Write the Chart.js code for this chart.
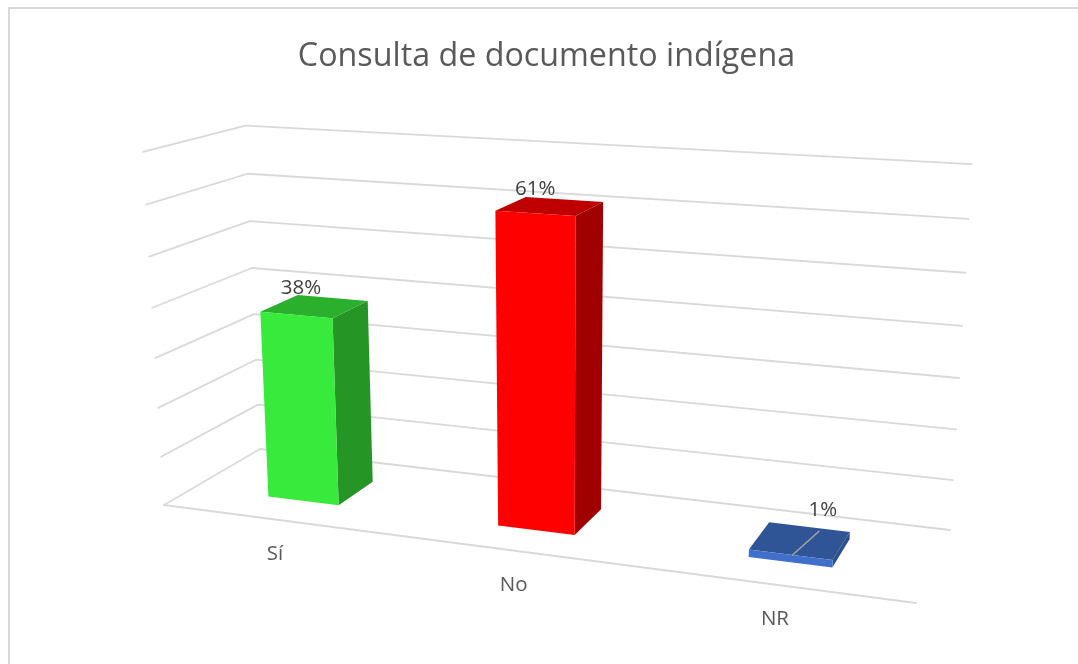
<!DOCTYPE html>
<html>
<head>
<meta charset="utf-8">
<script src="https://cdn.jsdelivr.net/npm/chart.js@4"></script>
<style>
html,body{margin:0;padding:0;background:#fff;overflow:hidden}
#wrap{position:relative;width:1078px;height:664px}
#frame{position:absolute;left:8px;top:7px;right:0;bottom:0;border-left:2px solid #d9d9d9;border-top:2px solid #d9d9d9}
canvas{position:absolute;left:0;top:0}
</style>
</head>
<body>
<div id="wrap"><canvas id="c" width="1078" height="664"></canvas><div id="frame"></div></div>
<script>
const chartTitle = 'Consulta de documento indígena';
const categories = ['Sí', 'No', 'NR'];
const percentValues = [38, 61, 1];
const axisMax = 70;
const axisStep = 10;
const frontColors = ['#37ea3c', '#ff0000', '#4070cc'];
const topColors = ['#2bb02e', '#bf0000', '#2f5597'];
const sideColors = ['#259525', '#a00000', '#2a4d8c'];

// Perspective of the 3D box: floor corners on screen and vertical vanishing point
const A = [164, 505], B = [916, 603], C = [950, 530], D = [260, 449];
const vanish = [556, 7089], vWeight = -0.0509, rightLift = 2.5;
const depthFront = 0.30, depthBack = 0.70, barShift = -0.001;
const labelOffsets = [[-14.5, -18], [-15.5, -17], [22, -31]];

const dx1 = B[0]-C[0], dy1 = B[1]-C[1], dx2 = D[0]-C[0], dy2 = D[1]-C[1];
const sx = A[0]-B[0]+C[0]-D[0], sy = A[1]-B[1]+C[1]-D[1];
const det = dx1*dy2 - dx2*dy1;
const g = (sx*dy2 - dx2*sy)/det, h = (dx1*sy - sx*dy1)/det;
const a = B[0]-A[0]+g*B[0], b = D[0]-A[0]+h*D[0];
const d = B[1]-A[1]+g*B[1], e = D[1]-A[1]+h*D[1];
function project(u, v, z) {
  const w = g*u + h*z + 1 + v*vWeight;
  return [(a*u + b*z + A[0] + v*vWeight*vanish[0])/w,
          (d*u + e*z + A[1] + v*vWeight*vanish[1])/w - rightLift*u*v];
}
function face(ctx, pts, fill) {
  ctx.beginPath();
  pts.forEach((p, i) => i ? ctx.lineTo(p[0], p[1]) : ctx.moveTo(p[0], p[1]));
  ctx.closePath();
  ctx.fillStyle = fill;
  ctx.fill();
}
function seg(ctx, p, q) {
  ctx.beginPath(); ctx.moveTo(p[0], p[1]); ctx.lineTo(q[0], q[1]); ctx.stroke();
}

const box3d = {
  id: 'box3d',
  beforeDatasetDraw(chart, args) {
    const ctx = chart.ctx, area = chart.chartArea;
    const yScale = chart.scales.y, xScale = chart.scales.x;
    const U = px => (px - area.left)/area.width;
    const V = py => (area.bottom - py)/area.height;
    ctx.save();
    // walls and floor
    ctx.strokeStyle = '#d9d9d9'; ctx.lineWidth = 1.8; ctx.lineCap = 'round';
    yScale.ticks.forEach(t => {
      const v = V(yScale.getPixelForValue(t.value));
      seg(ctx, project(0, v, 0), project(0, v, 1));
      seg(ctx, project(0, v, 1), project(1, v, 1));
    });
    seg(ctx, project(0, 0, 0), project(1, 0, 0));
    // bars
    const meta = chart.getDatasetMeta(args.index);
    meta.data.forEach((el, i) => {
      const u0 = U(el.x - el.width/2) + barShift, u1 = U(el.x + el.width/2) + barShift;
      const vb = V(el.base), vt = V(el.y);
      const z0 = depthFront, z1 = depthBack;
      face(ctx, [project(u1,vb,z0), project(u1,vb,z1), project(u1,vt,z1), project(u1,vt,z0)], sideColors[i]);
      face(ctx, [project(u0,vt,z0), project(u1,vt,z0), project(u1,vt,z1), project(u0,vt,z1)], topColors[i]);
      face(ctx, [project(u0,vb,z0), project(u1,vb,z0), project(u1,vt,z0), project(u0,vt,z0)], frontColors[i]);
    });
    // leader line of the small bar
    const last = meta.data[meta.data.length-1];
    const uL = U(last.x), vL = V(last.y);
    ctx.strokeStyle = '#a6a6a6'; ctx.lineWidth = 1.5;
    seg(ctx, project(uL + 0.0015, vL, depthFront), project(uL + 0.014, vL, depthBack - 0.04));
    // data labels
    ctx.textAlign = 'center'; ctx.textBaseline = 'middle';
    ctx.font = '20.5px "Open Sans"'; ctx.fillStyle = '#404040';
    meta.data.forEach((el, i) => {
      const c = project(U(el.x), V(el.y), (depthFront + depthBack)/2);
      ctx.fillText(percentValues[i] + '%', c[0] + labelOffsets[i][0], c[1] + labelOffsets[i][1]);
    });
    // category labels
    ctx.fillStyle = '#595959';
    categories.forEach((label, i) => {
      const p = project(U(xScale.getPixelForValue(i)), 0, 0);
      ctx.fillText(label, p[0] - 1, p[1] + 34.5);
    });
    ctx.restore();
    return false;
  }
};

new Chart(document.getElementById('c'), {
  type: 'bar',
  data: {
    labels: categories,
    datasets: [{ data: percentValues, backgroundColor: frontColors, barPercentage: 0.315, categoryPercentage: 1, minBarLength: 12 }]
  },
  options: {
    responsive: false,
    animation: false,
    layout: { padding: { left: 15 } },
    plugins: {
      legend: { display: false },
      tooltip: { enabled: false },
      title: {
        display: true, text: chartTitle, color: '#595959',
        font: { family: '"Open Sans"', size: 32.25, weight: 'normal' },
        padding: { top: 37, bottom: 10 }
      }
    },
    scales: {
      x: { display: false },
      y: { display: false, min: 0, max: axisMax, ticks: { stepSize: axisStep, callback: v => v + '%' } }
    }
  },
  plugins: [box3d]
});
</script>
</body>
</html>
